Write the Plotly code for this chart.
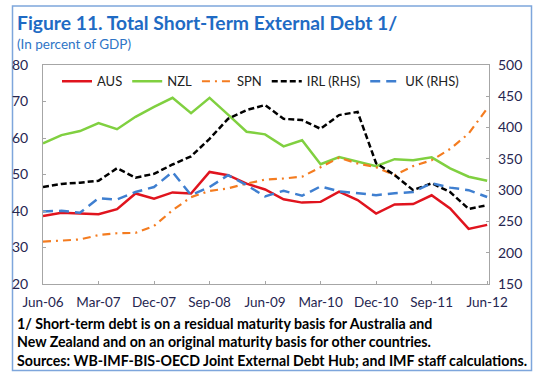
import plotly.graph_objects as go

quarters = ["Jun-06","Sep-06","Dec-06","Mar-07","Jun-07","Sep-07","Dec-07","Mar-08","Jun-08",
            "Sep-08","Dec-08","Mar-09","Jun-09","Sep-09","Dec-09","Mar-10","Jun-10","Sep-10",
            "Dec-10","Mar-11","Jun-11","Sep-11","Dec-11","Mar-12","Jun-12"]
tick_labels = ["Jun-06","Mar-07","Dec-07","Sep-08","Jun-09","Mar-10","Dec-10","Sep-11","Jun-12"]

aus = [38.6, 39.5, 39.3, 39.1, 40.5, 44.8, 43.4, 45.1, 44.8, 50.7, 49.8, 47.5, 45.9,
       43.2, 42.3, 42.5, 45.3, 43.0, 39.3, 41.8, 41.9, 44.3, 40.7, 35.1, 36.2]
nzl = [58.5, 60.8, 61.9, 64.1, 62.4, 65.8, 68.5, 71.0, 66.8, 71.0, 66.4, 61.7, 61.0,
       57.7, 59.4, 52.8, 54.8, 53.5, 52.3, 54.2, 53.9, 54.7, 51.7, 49.4, 48.3]
spn = [31.6, 31.8, 32.2, 33.4, 33.9, 34.0, 35.9, 40.2, 43.8, 45.5, 46.2, 47.5, 48.6,
       48.9, 49.4, 52.0, 54.6, 53.0, 52.0, 49.8, 52.3, 53.9, 57.0, 61.2, 68.1]
irl = [305, 310, 312, 315, 335, 320, 326, 341, 354, 382, 414, 428, 436,
       414, 412, 398, 420, 425, 343, 324, 300, 311, 297, 270, 276]
uk = [266, 267, 264, 287, 285, 297, 305, 329, 292, 305, 324, 308, 290,
      299, 291, 306, 298, 295, 292, 295, 297, 311, 304, 300, 289]

FONT = "Lato"
TICKC = "#262650"

fig = go.Figure()
fig.add_trace(go.Scatter(x=quarters, y=aus, name="AUS", mode="lines",
                         line=dict(color="#E0141E", width=2.5)))
fig.add_trace(go.Scatter(x=quarters, y=nzl, name="NZL", mode="lines",
                         line=dict(color="#80D040", width=2.5)))
fig.add_trace(go.Scatter(x=quarters, y=spn, name="SPN", mode="lines",
                         line=dict(color="#F47C20", width=2.2, dash="8px,5px,2px,5px")))
fig.add_trace(go.Scatter(x=quarters, y=irl, name="IRL (RHS)", mode="lines", yaxis="y2",
                         line=dict(color="#000000", width=2.5, dash="6px,3px")))
fig.add_trace(go.Scatter(x=quarters, y=uk, name="UK (RHS)", mode="lines", yaxis="y2",
                         line=dict(color="#3F7FD0", width=2.5, dash="10px,6px")))

L, R, T, B = 43, 489, 64.7, 284
W, H = 540, 379
pw, ph = R - L, B - T

def px(xp):
    return (xp - L) / pw

def py(yp):
    return (B - yp) / ph

fig.update_layout(
    width=W, height=H,
    margin=dict(l=L, r=W - R, t=T, b=H - B, autoexpand=False),
    paper_bgcolor="white", plot_bgcolor="white",
    font=dict(family=FONT, size=13, color=TICKC),
    showlegend=True,
    legend=dict(orientation="h", x=px(57), y=py(66), xanchor="left", yanchor="top",
                font=dict(family=FONT, size=13, color="#222222"),
                bgcolor="rgba(0,0,0,0)", tracegroupgap=0),
    xaxis=dict(type="category", categoryorder="array", categoryarray=quarters,
               range=[0, 24.1], tickmode="array", tickvals=tick_labels, ticktext=tick_labels,
               showline=True, mirror=True, linecolor="#A6A6A6", linewidth=1,
               ticks="inside", ticklen=3, tickcolor="#A6A6A6", showgrid=False, zeroline=False,
               ticklabelstandoff=6,
               tickfont=dict(family=FONT, size=13.5, color=TICKC)),
    yaxis=dict(range=[20, 80], dtick=10, showline=True, mirror=True, linecolor="#A6A6A6",
               linewidth=1, ticks="inside", ticklen=3, tickcolor="#A6A6A6", showgrid=False,
               zeroline=False, ticklabelstandoff=11,
               tickfont=dict(family=FONT, size=14, color=TICKC)),
    yaxis2=dict(range=[150, 500], dtick=50, overlaying="y", side="right", showline=False,
                ticks="inside", ticklen=3, tickcolor="#A6A6A6", showgrid=False, zeroline=False,
                ticklabelstandoff=8,
                tickfont=dict(family=FONT, size=14, color=TICKC)),
)

annos = [
    dict(text="<b>Figure 11. Total Short-Term External Debt 1/</b>", x=px(15), y=py(22),
         font=dict(family=FONT, size=19.3, color="#1F6BC4")),
    dict(text="(In percent of GDP)", x=px(15), y=py(44),
         font=dict(family=FONT, size=13.5, color="#2E75C6")),
    dict(text="<b>1/ Short-term debt is on a residual maturity basis for Australia and</b>",
         x=px(15), y=py(324), font=dict(family=FONT, size=14.2, color="#000000")),
    dict(text="<b>New Zealand and on an original maturity basis for other countries.</b>",
         x=px(15), y=py(342), font=dict(family=FONT, size=14.2, color="#000000")),
    dict(text="<b>Sources: WB-IMF-BIS-OECD Joint External Debt Hub; and IMF staff calculations.</b>",
         x=px(15), y=py(360.5), font=dict(family=FONT, size=14.2, color="#000000")),
]
for a in annos:
    fig.add_annotation(xref="paper", yref="paper", xanchor="left", yanchor="middle",
                       showarrow=False, **a)

fig.add_shape(type="rect", xref="paper", yref="paper",
              x0=px(12.5), x1=px(531.5), y0=py(370.5), y1=py(5.5),
              line=dict(color="#7EA6DC", width=1.5), fillcolor="rgba(0,0,0,0)", layer="below")

fig.write_html("out.html", config={"displayModeBar": False},
               post_script="document.body.style.margin='0px';document.body.style.padding='0px';")
